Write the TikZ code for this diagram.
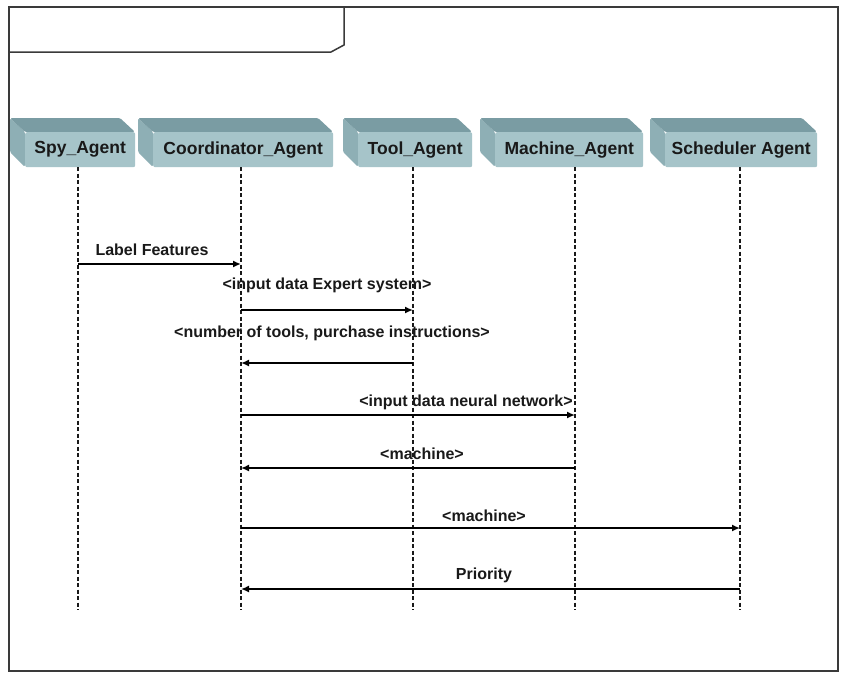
\documentclass[tikz,border=0pt]{standalone}
\usepackage{fontspec}
\setmainfont{Liberation Sans}
\usetikzlibrary{calc,arrows.meta}
\definecolor{boxtop}{HTML}{7A9CA3}
\definecolor{boxfront}{HTML}{A6C4C9}
\definecolor{boxside}{HTML}{8EAFB5}
\definecolor{framegray}{HTML}{3A3A3A}
\tikzset{
  agentfront/.style={fill=boxfront, rounded corners=2pt, inner sep=0pt,
    font=\fontsize{17.5}{20}\selectfont\bfseries, text=black!90},
  agenttop/.style={fill=boxtop, rounded corners=1.5pt},
  agentside/.style={fill=boxside, rounded corners=1.5pt},
  lifeline/.style={black!90, line width=1.8pt, dash pattern=on 4pt off 2.5pt},
  msg/.style={line width=2.3pt, -{Latex[length=8pt,width=7pt]}},
  msglabel/.style={font=\fontsize{16}{18}\selectfont\bfseries, text=black!90, inner sep=0pt}
}
% agent box: #1 name, #2 left of top face, #3 left of front face, #4 right of front face, #5 text
\newcommand{\agentbox}[5]{%
  \fill[agentside] (#2,118) -- (#3,132) -- (#3,167) -- (#2,152) -- cycle;
  \fill[agenttop] (#2,118) -- ($(#4,118)+(-15,0)$) -- (#4,132) -- (#3,132) -- cycle;
  \node[agentfront, minimum width={(#4-#3)*1pt}, minimum height=35pt, anchor=north west]
    (#1) at (#3,132) {#5};
}
\begin{document}
\begin{tikzpicture}[x=1pt,y=-1pt]
\useasboundingbox (0,0) rectangle (843,672);
\fill[white] (0,0) rectangle (843,672);
% frame with name tab
\draw[framegray, line width=1.5pt] (9,7) rectangle (838,671);
\draw[framegray, line width=1.5pt] (9,52) -- (331,52) -- (344,45) -- (344,7);

% agents
\agentbox{spy}{10}{25}{135}{Spy\_Agent}
\agentbox{coord}{138}{153}{333}{Coordinator\_Agent}
\agentbox{tool}{343}{358}{472}{Tool\_Agent}
\agentbox{mach}{480}{495}{643}{Machine\_Agent}
\agentbox{sched}{650}{665}{817}{Scheduler Agent}

% lifelines
\coordinate (Lspy) at (78,167);   \coordinate (Espy) at (78,610);
\coordinate (Lcoord) at (241,167); \coordinate (Ecoord) at (241,610);
\coordinate (Ltool) at (413,167);  \coordinate (Etool) at (413,610);
\coordinate (Lmach) at (575,167);  \coordinate (Emach) at (575,610);
\coordinate (Lsched) at (740,167); \coordinate (Esched) at (740,610);
\foreach \a in {spy,coord,tool,mach,sched}
  \draw[lifeline] (L\a) -- (E\a);

% messages
\coordinate (m1) at (0,264);
\coordinate (m2) at (0,310);
\coordinate (m3) at (0,363);
\coordinate (m4) at (0,415);
\coordinate (m5) at (0,468);
\coordinate (m6) at (0,528);
\coordinate (m7) at (0,589);

\draw[msg] (Lspy |- m1) -- (Lcoord |- m1);
\draw[msg] (Lcoord |- m2) -- (Ltool |- m2);
\draw[msg] (Ltool |- m3) -- (Lcoord |- m3);
\draw[msg] (Lcoord |- m4) -- (Lmach |- m4);
\draw[msg] (Lmach |- m5) -- (Lcoord |- m5);
\draw[msg] (Lcoord |- m6) -- (Lsched |- m6);
\draw[msg] (Lsched |- m7) -- (Lcoord |- m7);

\node[msglabel] (t1) at (152,250) {Label Features};
\node[msglabel] (t2) at (327,285) {<input data Expert system>};
\node[msglabel] (t3) at (332,333) {<number of tools, purchase instructions>};
\node[msglabel] (t4) at (466,402) {<input data neural network>};
\node[msglabel] (t5) at (422,454) {<machine>};
\node[msglabel] (t6) at (484,516) {<machine>};
\node[msglabel] (t7) at (484,575) {Priority};
\end{tikzpicture}
\end{document}
